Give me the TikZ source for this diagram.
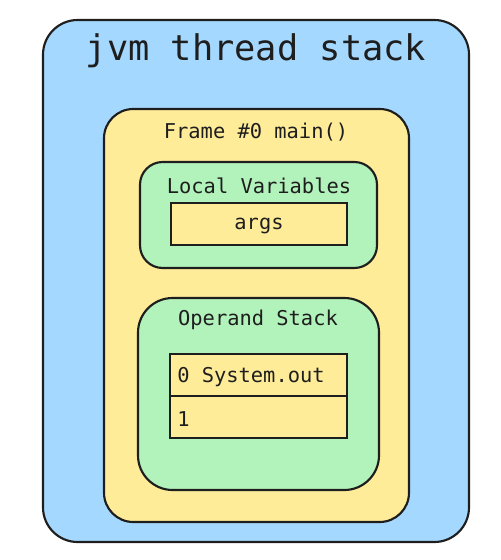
\documentclass[tikz,border=0pt]{standalone}
\usepackage{fontspec}
\setmonofont{DejaVu Sans Mono}
\definecolor{cblue}{HTML}{A5D8FF}
\definecolor{cyellow}{HTML}{FFEC99}
\definecolor{cgreen}{HTML}{B2F2BB}
\definecolor{cstroke}{HTML}{1E1E1E}
\tikzset{
  box/.style={draw=cstroke, line width=1.6pt},
  lbl/.style={text=cstroke, font=\ttfamily\fontsize{15.3}{16}\selectfont, inner sep=0pt},
  title/.style={text=cstroke, font=\ttfamily\fontsize{26.5}{28}\selectfont, inner sep=0pt},
}
\begin{document}
\begin{tikzpicture}[x=0.75pt, y=-0.75pt]
\useasboundingbox (0,0) rectangle (500,560);
% outer
\draw[box, fill=cblue, rounded corners=26pt] (43,20) rectangle (469,542);
\node[title] (ttl) at (256,51) {jvm thread stack};
% frame
\draw[box, fill=cyellow, rounded corners=22pt] (104,109) rectangle (409,522);
\node[lbl] (frm) at (256,132) {Frame \#0 main()};
% local vars
\draw[box, fill=cgreen, rounded corners=17pt] (140,162) rectangle (377,268);
\node[lbl] (lv) at (259,186) {Local Variables};
\draw[box, fill=cyellow] (171,203) rectangle (347,245);
\node[lbl] (args) at (259,226) {args};
% operand stack
\draw[box, fill=cgreen, rounded corners=26pt] (138,298) rectangle (379,490);
\node[lbl] (os) at (258,320) {Operand Stack};
\draw[box, fill=cyellow] (170,354) rectangle (347,396);
\draw[box, fill=cyellow] (170,396) rectangle (347,438);
\node[lbl, anchor=west] (s0) at (177,377) {0 System.out};
\node[lbl, anchor=west] (s1) at (177,419) {1};
\end{tikzpicture}
\end{document}
